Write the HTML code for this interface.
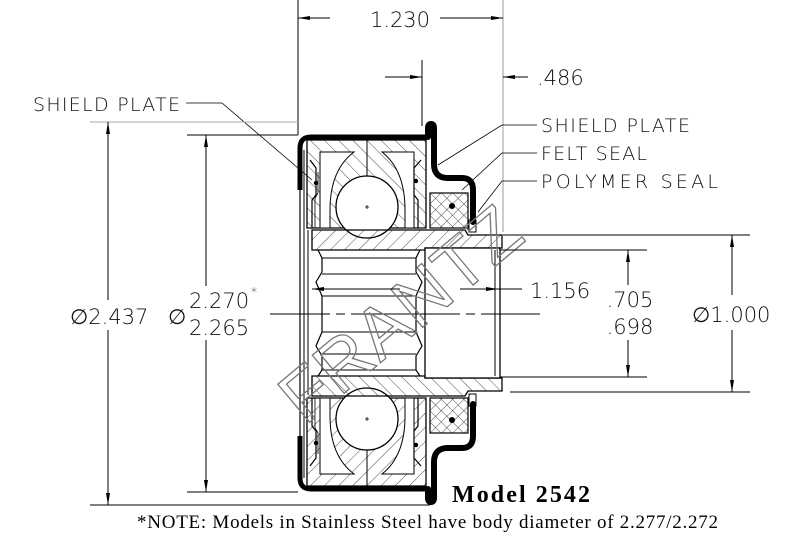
<!DOCTYPE html>
<html><head><meta charset="utf-8">
<style>
html,body{margin:0;padding:0;background:#fff;}
svg{display:block;}
.t{font-family:"DejaVu Sans","Liberation Sans",sans-serif;font-weight:200;fill:#111;}
</style></head>
<body>
<svg width="809" height="542" viewBox="0 0 809 542" xmlns="http://www.w3.org/2000/svg">
<defs>
<pattern id="h1" patternUnits="userSpaceOnUse" width="10" height="10" patternTransform="rotate(45)">
<line x1="0" y1="0" x2="0" y2="10" stroke="#222" stroke-width="0.8"/></pattern>
<pattern id="h2" patternUnits="userSpaceOnUse" width="10" height="10" patternTransform="rotate(-45)">
<line x1="0" y1="0" x2="0" y2="10" stroke="#222" stroke-width="0.8"/></pattern>
<pattern id="x1" patternUnits="userSpaceOnUse" width="8" height="8" patternTransform="rotate(45)">
<line x1="0" y1="0" x2="0" y2="8" stroke="#222" stroke-width="0.8"/><line x1="0" y1="0" x2="8" y2="0" stroke="#222" stroke-width="0.8"/></pattern>
<marker id="a" viewBox="0 0 12 6" refX="12" refY="3" markerWidth="12" markerHeight="6" orient="auto-start-reverse" markerUnits="userSpaceOnUse"><path d="M0,1 L12,3 L0,5 z" fill="#000"/></marker>
<g id="half">
<path d="M307,140 H426 V228 H307 Z" fill="url(#h2)" stroke="#000" stroke-width="1.3"/>
<path d="M320,152 H354 Q330,170 330,210 V228 H320 Z" fill="#fff" stroke="#000" stroke-width="1"/>
<path d="M414,152 H382 Q405,170 405,210 V228 H414 Z" fill="#fff" stroke="#000" stroke-width="1"/>
<line x1="367" y1="140" x2="367" y2="176" stroke="#000" stroke-width="1"/>
<circle cx="367" cy="207" r="31" fill="#fff" stroke="#000" stroke-width="1.3"/>
<path d="M365,207h4M367,205v4" stroke="#000" stroke-width="0.8"/>
<path d="M310,160 L316,168 V195 L312,200 V228" fill="none" stroke="#000" stroke-width="1.2"/>
<path d="M318,172 V193 L315,198 V228" fill="none" stroke="#000" stroke-width="0.8"/>
<path d="M421,160 L414,168 V195 L418,200 V228" fill="none" stroke="#000" stroke-width="1.2"/>
<circle cx="316" cy="183" r="2.2" fill="#000"/><circle cx="416" cy="181" r="2.2" fill="#000"/>
<rect x="430" y="193" width="38" height="35" fill="url(#x1)" stroke="#000" stroke-width="1.2"/>
<circle cx="452" cy="206" r="3" fill="#000"/>
<rect x="469" y="220" width="7" height="12" fill="#fff" stroke="#000" stroke-width="1"/>
<path d="M300,190 V148 Q300,137 311,137 H428" fill="none" stroke="#000" stroke-width="5"/>
<path d="M428,137 V128 Q428,124 431,124 Q434,124 434,128 V164 Q434,178 448,178 H462 Q473,178 473,190 V222" fill="none" stroke="#000" stroke-width="6" stroke-linecap="round"/>
<path d="M312,230 H465 L468,235 H502 V248 H425 V250 H312 Z" fill="url(#h1)" stroke="#000" stroke-width="1.3"/>
</g>
</defs>

<line x1="300" y1="180" x2="300" y2="450" stroke="#000" stroke-width="1.2"/>
<line x1="304" y1="150" x2="304" y2="478" stroke="#000" stroke-width="1"/>
<line x1="308" y1="230" x2="308" y2="395" stroke="#000" stroke-width="1"/>

<use href="#half"/>
<use href="#half" transform="translate(0,626) scale(1,-1)"/>

<rect x="425" y="248" width="75" height="130" fill="#fff" stroke="#000" stroke-width="1.3"/>
<line x1="495" y1="250" x2="495" y2="376" stroke="#000" stroke-width="1"/>
<path d="M318,250 L322,258 V272 L316,282 L322,296 V332 L316,346 L322,356 V370 L318,376" fill="none" stroke="#000" stroke-width="1.2"/>
<path d="M420,250 L416,258 V272 L422,282 L416,296 V332 L422,346 L416,356 V370 L420,376" fill="none" stroke="#000" stroke-width="1.2"/>
<line x1="322" y1="258" x2="416" y2="258" stroke="#000" stroke-width="1"/>
<line x1="322" y1="274" x2="416" y2="274" stroke="#000" stroke-width="1"/>
<line x1="322" y1="296" x2="416" y2="296" stroke="#000" stroke-width="1"/>
<line x1="322" y1="332" x2="416" y2="332" stroke="#000" stroke-width="1"/>
<line x1="322" y1="354" x2="416" y2="354" stroke="#000" stroke-width="1"/>
<line x1="322" y1="370" x2="416" y2="370" stroke="#000" stroke-width="1"/>

<path d="M270,314 H330 M336,314 H345 M351,314 H460 M466,314 H475 M481,314 H540" stroke="#000" stroke-width="0.9"/>

<text x="402" y="338" text-anchor="middle" transform="rotate(-40 402 316)" font-family="Liberation Sans,sans-serif" font-size="72" fill="none" stroke="#777" stroke-width="1.3" textLength="290" lengthAdjust="spacing">FRANTZ</text>

<line x1="298" y1="0" x2="298" y2="135" stroke="#000" stroke-width="1"/>
<line x1="503" y1="0" x2="503" y2="232" stroke="#999" stroke-width="1"/>
<line x1="330" y1="18" x2="298" y2="18" stroke="#000" stroke-width="1" marker-end="url(#a)"/>
<line x1="440" y1="18" x2="503" y2="18" stroke="#000" stroke-width="1" marker-end="url(#a)"/>
<text class="t" x="370" y="27" font-size="21" textLength="60">1.230</text>
<line x1="422" y1="60" x2="422" y2="126" stroke="#000" stroke-width="1"/>
<line x1="385" y1="77" x2="422" y2="77" stroke="#000" stroke-width="1" marker-end="url(#a)"/>
<line x1="528" y1="77" x2="503" y2="77" stroke="#000" stroke-width="1" marker-end="url(#a)"/>
<text class="t" x="537" y="85" font-size="21">.486</text>

<text class="t" x="33" y="111" font-size="19" textLength="147">SHIELD PLATE</text>
<path d="M186,103 H222 L312,180" fill="none" stroke="#000" stroke-width="0.8"/>
<line x1="90" y1="122" x2="298" y2="122" stroke="#aaa" stroke-width="1"/>
<line x1="187" y1="135" x2="298" y2="135" stroke="#000" stroke-width="1"/>
<line x1="90" y1="505" x2="430" y2="505" stroke="#000" stroke-width="1"/>
<line x1="187" y1="492" x2="298" y2="492" stroke="#000" stroke-width="1"/>
<line x1="108" y1="300" x2="108" y2="122" stroke="#000" stroke-width="1" marker-end="url(#a)"/>
<line x1="108" y1="330" x2="108" y2="505" stroke="#000" stroke-width="1" marker-end="url(#a)"/>
<line x1="206" y1="286" x2="206" y2="135" stroke="#000" stroke-width="1" marker-end="url(#a)"/>
<line x1="206" y1="340" x2="206" y2="492" stroke="#000" stroke-width="1" marker-end="url(#a)"/>
<text class="t" x="70" y="324" font-size="21">∅2.437</text>
<text class="t" x="168" y="324" font-size="21">∅</text>
<text class="t" x="189" y="308" font-size="21">2.270</text>
<text class="t" x="251" y="296" font-size="12">*</text>
<text class="t" x="189" y="335" font-size="21">2.265</text>

<text class="t" x="541" y="132" font-size="19" textLength="149">SHIELD PLATE</text>
<text class="t" x="541" y="160" font-size="19" textLength="106">FELT SEAL</text>
<text class="t" x="541" y="188" font-size="19" textLength="177">POLYMER  SEAL</text>
<path d="M537,125 H502 L438,165" fill="none" stroke="#000" stroke-width="0.8"/>
<path d="M537,153 H502 L462,190" fill="none" stroke="#000" stroke-width="0.8"/>
<path d="M537,181 H502 L478,212" fill="none" stroke="#000" stroke-width="0.8"/>

<line x1="400" y1="289" x2="312" y2="289" stroke="#000" stroke-width="1" marker-end="url(#a)"/>
<line x1="460" y1="289" x2="498" y2="289" stroke="#000" stroke-width="1" marker-end="url(#a)"/>
<line x1="498" y1="289" x2="522" y2="289" stroke="#000" stroke-width="1"/>
<text class="t" x="530" y="298" font-size="21">1.156</text>

<line x1="500" y1="250" x2="647" y2="250" stroke="#000" stroke-width="1"/>
<line x1="500" y1="377" x2="647" y2="377" stroke="#000" stroke-width="1"/>
<line x1="628" y1="285" x2="628" y2="250" stroke="#000" stroke-width="1" marker-end="url(#a)"/>
<line x1="628" y1="340" x2="628" y2="377" stroke="#000" stroke-width="1" marker-end="url(#a)"/>
<text class="t" x="630" y="307" font-size="21" text-anchor="middle">.705</text>
<text class="t" x="630" y="334" font-size="21" text-anchor="middle">.698</text>

<line x1="503" y1="235" x2="750" y2="235" stroke="#000" stroke-width="1"/>
<line x1="510" y1="392" x2="750" y2="392" stroke="#000" stroke-width="1"/>
<line x1="732" y1="295" x2="732" y2="235" stroke="#000" stroke-width="1" marker-end="url(#a)"/>
<line x1="732" y1="330" x2="732" y2="392" stroke="#000" stroke-width="1" marker-end="url(#a)"/>
<rect x="690" y="298" width="90" height="30" fill="#fff"/>
<text class="t" x="692" y="322" font-size="21">∅1.000</text>

<text x="452" y="502" font-family="Liberation Serif,serif" font-weight="bold" font-size="24" fill="#000" textLength="138">Model 2542</text>
<text x="137" y="528" font-family="Liberation Serif,serif" font-size="19" fill="#000" textLength="581">*NOTE: Models in Stainless Steel have body diameter of 2.277/2.272</text>
</svg>
</body></html>
